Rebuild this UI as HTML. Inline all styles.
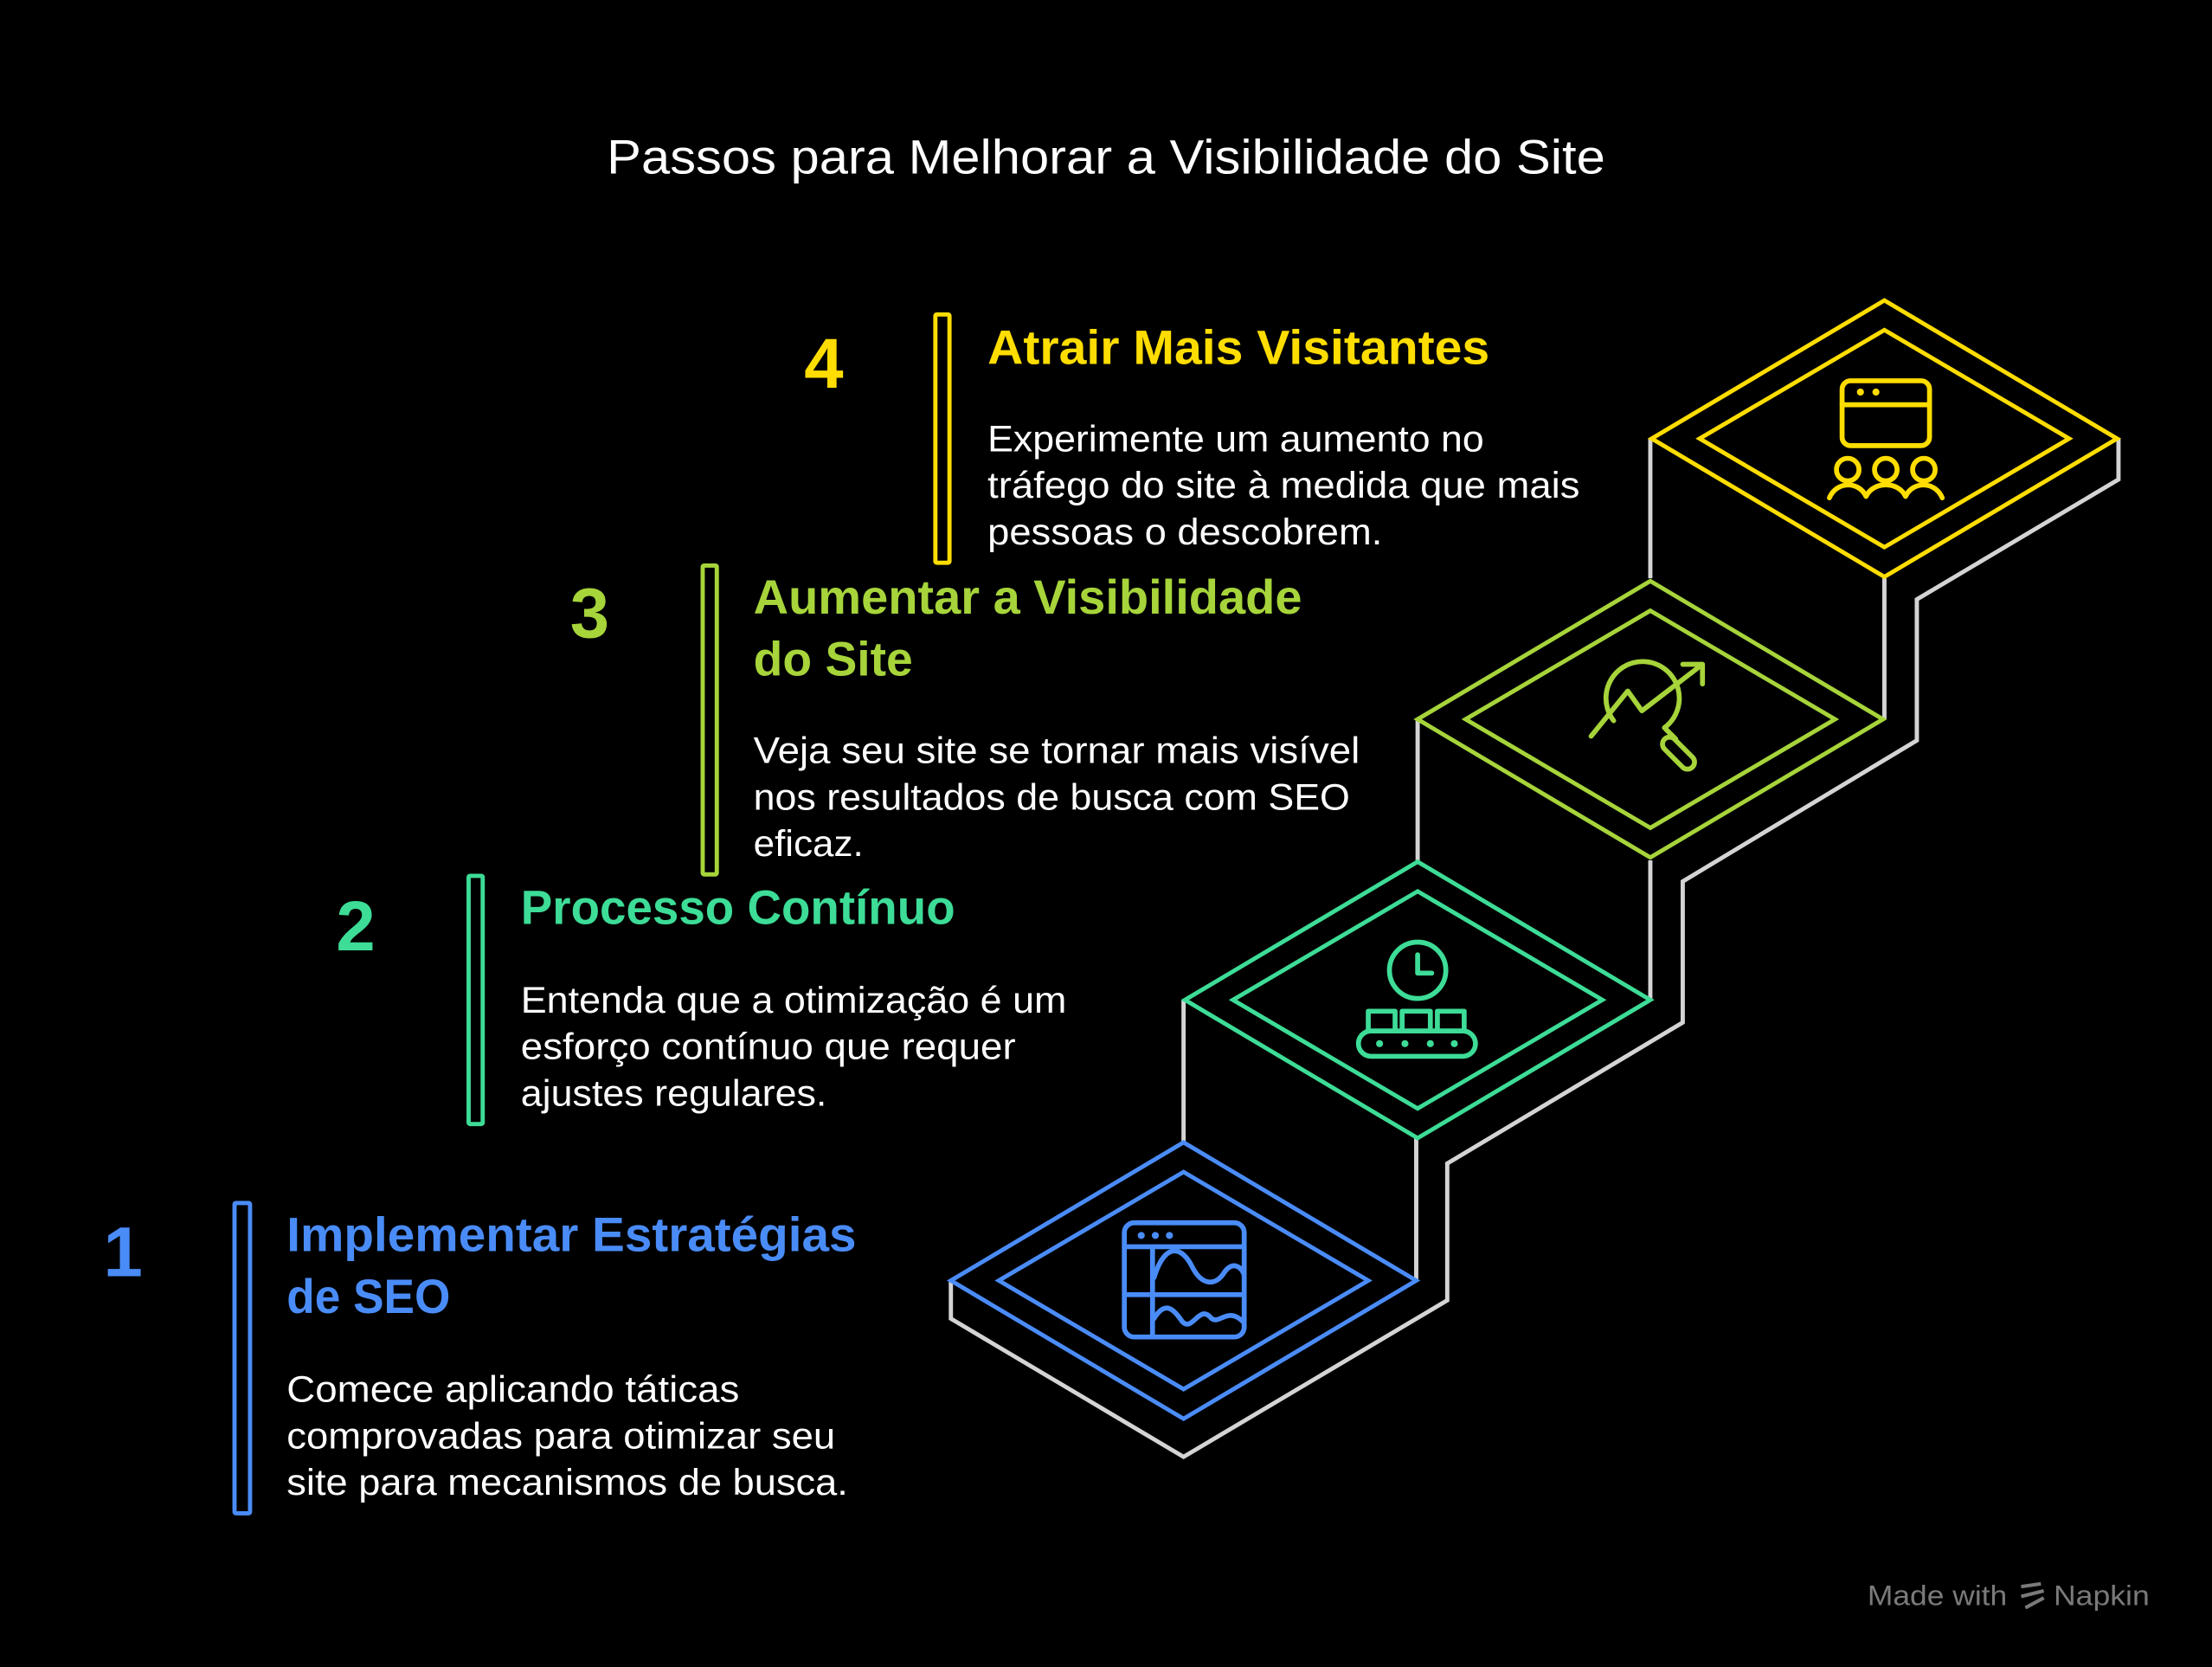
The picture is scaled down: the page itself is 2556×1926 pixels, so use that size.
<!DOCTYPE html>
<html><head><meta charset="utf-8"><style>
html,body{margin:0;padding:0;background:#000;}
svg{display:block;}
text{font-family:"Liberation Sans",sans-serif;}
</style></head><body>
<svg width="2556" height="1926" viewBox="0 0 1568 1182" xmlns="http://www.w3.org/2000/svg">
<rect width="1568" height="1182" fill="#000"/>
<text x="784" y="123" text-anchor="middle" fill="#fff" font-size="34" textLength="708" lengthAdjust="spacingAndGlyphs">Passos para Melhorar a Visibilidade do Site</text>

<!-- gray outline -->
<g fill="none" stroke="#d4d4d4" stroke-width="3">
<path d="M674 908 L674 935 L839 1033 L1026 922 L1026 825 L1193 725 L1193 625 L1359 525 L1359 425 L1502 340 L1502 311"/>
<path d="M839 810 L839 709 M1004 908 L1004 807 M1005 610 L1005 510 M1170 709 L1170 610 M1170 410 L1170 311 M1336 510 L1336 410"/>
</g>

<!-- diamonds -->
<g fill="none" stroke-width="3">
<g stroke="#4a8cf7"><path d="M674 908 L839 810 L1004 908 L839 1006 Z"/><path d="M708 908 L839 831 L970 908 L839 985 Z"/></g>
<g stroke="#3ddc97"><path d="M840 709 L1005 611 L1170 709 L1005 807 Z"/><path d="M874 709 L1005 632 L1136 709 L1005 786 Z"/></g>
<g stroke="#a6d43a"><path d="M1005 510 L1170 412 L1335 510 L1170 608 Z"/><path d="M1039 510 L1170 433 L1301 510 L1170 587 Z"/></g>
<g stroke="#ffdd00"><path d="M1171 311 L1336 213 L1501 311 L1336 409 Z"/><path d="M1205 311 L1336 234 L1467 311 L1336 388 Z"/></g>
</g>

<!-- icons -->
<g fill="none" stroke-width="3.5" stroke-linecap="round" stroke-linejoin="round">
<g stroke="#4a8cf7">
<rect x="797" y="867" width="85" height="81" rx="7"/>
<line x1="797" y1="884" x2="882" y2="884"/><line x1="797" y1="918" x2="882" y2="918"/><line x1="817" y1="884" x2="817" y2="948"/>
<path d="M818 906 C826 880 838 884 845 898 C852 912 862 912 868 902 C874 894 880 898 882 904"/>
<path d="M818 935 C826 922 832 928 838 937 C845 945 850 925 858 934 C864 941 870 925 882 938"/>
</g>
<g fill="#4a8cf7"><circle cx="809" cy="876" r="2.5"/><circle cx="819" cy="876" r="2.5"/><circle cx="829" cy="876" r="2.5"/></g>
<g stroke="#3ddc97">
<circle cx="1005" cy="688" r="20"/><path d="M1005 677 L1005 690 L1015 690"/>
<rect x="963" y="731" width="83" height="18" rx="9"/>
<path d="M970 731 V717 H989 V731 M994 731 V717 H1014 V731 M1019 731 V717 H1038 V731"/>
</g>
<g fill="#3ddc97"><circle cx="978" cy="740" r="2.5"/><circle cx="996" cy="740" r="2.5"/><circle cx="1014" cy="740" r="2.5"/><circle cx="1031" cy="740" r="2.5"/></g>
<g stroke="#a6d43a">
<path d="M1144 511 A26 26 0 1 1 1180 516"/>
<path d="M1128 522 L1154 490 L1164 504 L1207 471 M1193 471 H1207 V485"/>
<path d="M1181 517 L1188 524"/><rect x="1185" y="520" width="10" height="28" rx="5" transform="rotate(-45 1190 534)"/>
</g>
<g stroke="#ffdd00">
<rect x="1306" y="270" width="62" height="46" rx="6"/><line x1="1306" y1="287" x2="1368" y2="287"/>
<circle cx="1310" cy="333" r="8"/><circle cx="1337" cy="333" r="8"/><circle cx="1364" cy="333" r="8"/>
<path d="M1297 353 C1302 341 1318 341 1323 352 C1328 341 1346 341 1351 352 C1356 341 1372 341 1377 353"/>
</g>
<g fill="#ffdd00"><circle cx="1319" cy="278" r="2.5"/><circle cx="1330" cy="278" r="2.5"/></g>
</g>

<!-- bars -->
<g fill="none" stroke-width="3">
<rect x="663" y="223" width="10" height="176" rx="1" stroke="#ffdd00"/>
<rect x="498" y="401" width="10" height="219" rx="1" stroke="#a6d43a"/>
<rect x="332" y="621" width="10" height="176" rx="1" stroke="#3ddc97"/>
<rect x="166" y="853" width="11" height="220" rx="1" stroke="#4a8cf7"/>
</g>

<!-- step 4 -->
<g font-weight="bold">
<text x="570" y="275" fill="#ffdd00" font-size="50">4</text>
<text x="404" y="452" fill="#a6d43a" font-size="50">3</text>
<text x="238" y="674" fill="#3ddc97" font-size="50">2</text>
<text x="73" y="905" fill="#4a8cf7" font-size="50">1</text>
<text x="700" y="258" fill="#ffdd00" font-size="34" textLength="356" lengthAdjust="spacingAndGlyphs">Atrair Mais Visitantes</text>
<text x="534" y="435" fill="#a6d43a" font-size="34" textLength="389" lengthAdjust="spacingAndGlyphs">Aumentar a Visibilidade</text>
<text x="534" y="479" fill="#a6d43a" font-size="34" textLength="113" lengthAdjust="spacingAndGlyphs">do Site</text>
<text x="369" y="655" fill="#3ddc97" font-size="34" textLength="308" lengthAdjust="spacingAndGlyphs">Processo Contínuo</text>
<text x="203" y="887" fill="#4a8cf7" font-size="34" textLength="404" lengthAdjust="spacingAndGlyphs">Implementar Estratégias</text>
<text x="203" y="931" fill="#4a8cf7" font-size="34" textLength="116" lengthAdjust="spacingAndGlyphs">de SEO</text>
</g>
<g fill="#fff" font-size="26" lengthAdjust="spacingAndGlyphs">
<text x="700" y="320" textLength="352" lengthAdjust="spacingAndGlyphs">Experimente um aumento no</text>
<text x="700" y="353" textLength="420" lengthAdjust="spacingAndGlyphs">tráfego do site à medida que mais</text>
<text x="700" y="386" textLength="280" lengthAdjust="spacingAndGlyphs">pessoas o descobrem.</text>
<text x="534" y="541" textLength="430" lengthAdjust="spacingAndGlyphs">Veja seu site se tornar mais visível</text>
<text x="534" y="574" textLength="423" lengthAdjust="spacingAndGlyphs">nos resultados de busca com SEO</text>
<text x="534" y="607" textLength="78" lengthAdjust="spacingAndGlyphs">eficaz.</text>
<text x="369" y="718" textLength="387" lengthAdjust="spacingAndGlyphs">Entenda que a otimização é um</text>
<text x="369" y="751" textLength="351" lengthAdjust="spacingAndGlyphs">esforço contínuo que requer</text>
<text x="369" y="784" textLength="217" lengthAdjust="spacingAndGlyphs">ajustes regulares.</text>
<text x="203" y="994" textLength="321" lengthAdjust="spacingAndGlyphs">Comece aplicando táticas</text>
<text x="203" y="1027" textLength="389" lengthAdjust="spacingAndGlyphs">comprovadas para otimizar seu</text>
<text x="203" y="1060" textLength="398" lengthAdjust="spacingAndGlyphs">site para mecanismos de busca.</text>
</g>
<text x="1324" y="1138" fill="#7a7a7a" font-size="20" textLength="99" lengthAdjust="spacingAndGlyphs">Made with</text>
<path d="M1433 1125 L1447 1123 M1433 1132 L1449 1128 M1436 1140 L1449 1133" stroke="#7a7a7a" stroke-width="2.5" fill="none"/>
<text x="1456" y="1138" fill="#7a7a7a" font-size="20" textLength="68" lengthAdjust="spacingAndGlyphs">Napkin</text>
</svg>
</body></html>
